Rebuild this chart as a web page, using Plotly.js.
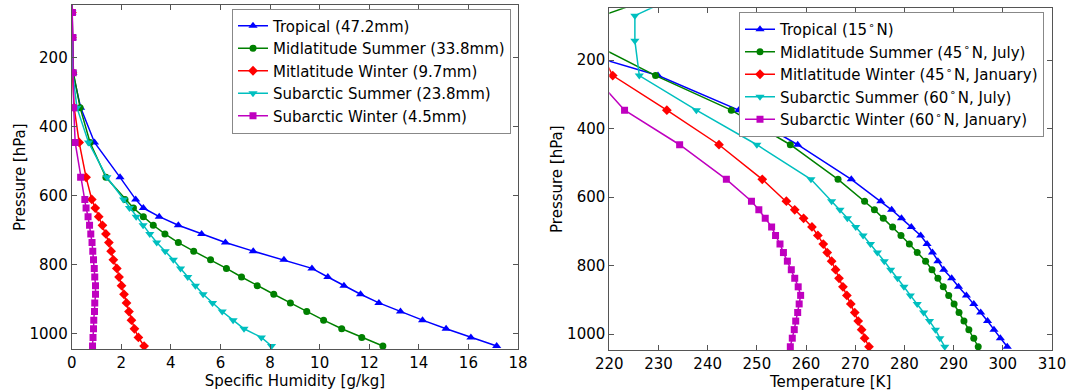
<!DOCTYPE html>
<html>
<head>
<meta charset="utf-8">
<script src="https://cdn.plot.ly/plotly-3.0.1.min.js"></script>
<style>
  html, body { margin: 0; padding: 0; background: #ffffff; }
  #chart { width: 1068px; height: 392px; }
</style>
</head>
<body>
<div id="chart"></div>
<script>
// Pressure levels shared by every profile [hPa]
const pressure = [20, 70, 143, 245, 346, 447, 548, 612, 637, 662, 687, 712, 737, 762,
                  787, 812, 837, 862, 887, 912, 937, 962, 987, 1012, 1037];

// Specific humidity profiles [g/kg]
const qTropical = [0.00, 0.01, 0.02, 0.05, 0.36, 0.92, 1.95, 2.58, 2.89, 3.53, 4.30, 5.24, 6.20,
                   7.32, 8.56, 9.69, 10.33, 10.98, 11.65, 12.39, 13.26, 14.15, 15.10, 16.10, 17.14];
const qMidSummer = [0.00, 0.01, 0.02, 0.07, 0.34, 0.74, 1.38, 2.15, 2.49, 2.89, 3.29, 3.76, 4.30,
                    4.92, 5.60, 6.24, 6.85, 7.48, 8.15, 8.82, 9.48, 10.16, 10.89, 11.70, 12.55];
const qMidWinter = [0.00, 0.01, 0.01, 0.03, 0.10, 0.30, 0.58, 0.81, 0.95, 1.09, 1.24, 1.38, 1.50,
                    1.59, 1.68, 1.82, 1.91, 2.01, 2.11, 2.21, 2.31, 2.41, 2.53, 2.69, 2.92];
const qSubSummer = [0.00, 0.01, 0.02, 0.04, 0.21, 0.68, 1.42, 2.09, 2.33, 2.60, 2.88, 3.15, 3.43,
                    3.77, 4.10, 4.39, 4.68, 4.99, 5.30, 5.68, 6.07, 6.51, 6.95, 7.65, 8.06];
const qSubWinter = [0.00, 0.03, 0.05, 0.06, 0.08, 0.14, 0.36, 0.53, 0.58, 0.66, 0.72, 0.77, 0.82,
                    0.85, 0.88, 0.91, 0.93, 0.96, 0.96, 0.93, 0.92, 0.89, 0.88, 0.86, 0.84];

// Temperature profiles [K]
const tTropical = [215.0, 205.0, 205.9, 229.9, 246.3, 258.3, 269.2, 275.2, 277.4, 279.4, 281.4, 283.3, 284.6,
                   285.7, 286.8, 288.0, 289.6, 291.0, 292.6, 294.1, 295.5, 296.9, 298.2, 299.5, 300.9];
const tMidSummer = [228.4, 218.6, 215.5, 229.4, 244.8, 256.8, 266.5, 271.9, 273.9, 275.7, 277.6, 279.3, 281.0,
                    282.6, 284.3, 285.6, 286.8, 287.9, 289.0, 290.1, 291.1, 292.1, 293.1, 294.1, 295.0];
const tMidWinter = [218.0, 217.5, 217.0, 220.7, 231.7, 242.3, 251.1, 256.0, 257.7, 259.5, 261.2, 262.4, 263.5,
                    264.3, 265.2, 266.0, 266.7, 267.5, 268.3, 269.1, 269.9, 270.6, 271.3, 271.9, 272.8];
const tSubSummer = [232.7, 225.2, 225.2, 226.1, 237.7, 250.0, 261.0, 265.2, 266.9, 268.4, 270.1, 271.6, 273.1,
                    274.5, 275.9, 277.2, 278.6, 279.9, 281.2, 282.6, 283.9, 285.1, 286.3, 287.2, 288.2];
const tSubWinter = [217.0, 217.0, 217.0, 216.8, 223.1, 234.3, 243.8, 248.9, 250.4, 251.7, 253.0, 253.8, 254.7,
                    255.4, 256.2, 257.0, 257.7, 258.4, 258.9, 258.6, 258.3, 257.9, 257.6, 257.2, 256.8];

// Legend labels
const humidityLabels = ['Tropical (47.2mm)', 'Midlatitude Summer (33.8mm)', 'Mitlatitude Winter (9.7mm)',
                        'Subarctic Summer (23.8mm)', 'Subarctic Winter (4.5mm)'];
const deg = '\u200a<sup>\u2218</sup>\u200a';
const temperatureLabels = ['Tropical (15' + deg + 'N)', 'Midlatitude Summer (45' + deg + 'N, July)',
                           'Mitlatitude Winter (45' + deg + 'N, January)', 'Subarctic Summer (60' + deg + 'N, July)',
                           'Subarctic Winter (60' + deg + 'N, January)'];

const humiditySeries = [qTropical, qMidSummer, qMidWinter, qSubSummer, qSubWinter];
const temperatureSeries = [tTropical, tMidSummer, tMidWinter, tSubSummer, tSubWinter];

// Line colours and marker shapes per atmosphere
const colors = ['#0000ff', '#008000', '#ff0000', '#00bfbf', '#bf00bf'];
const symbols = ['triangle-up', 'circle', 'diamond', 'triangle-down', 'square'];
const sizes = [8, 7, 7.5, 8, 7];

const traces = [];
humiditySeries.forEach((q, i) => {
  traces.push({
    type: 'scatter', mode: 'lines+markers', x: q, y: pressure, name: humidityLabels[i],
    xaxis: 'x', yaxis: 'y', legend: 'legend', cliponaxis: true,
    line: { color: colors[i], width: 1.5 },
    marker: { symbol: symbols[i], size: sizes[i], color: colors[i] }
  });
});
temperatureSeries.forEach((t, i) => {
  traces.push({
    type: 'scatter', mode: 'lines+markers', x: t, y: pressure, name: temperatureLabels[i],
    xaxis: 'x2', yaxis: 'y2', legend: 'legend2', cliponaxis: true,
    line: { color: colors[i], width: 1.5 },
    marker: { symbol: symbols[i], size: sizes[i], color: colors[i] }
  });
});

const W = 1068, H = 392;
const frame = {
  showline: true, linecolor: '#555', linewidth: 1, mirror: 'allticks',
  ticks: 'inside', ticklen: 5, tickwidth: 1, tickcolor: '#555',
  showgrid: false, zeroline: false, fixedrange: true,
  tickfont: { family: 'DejaVu Sans', size: 15, color: '#000' }
};
const titleFont = { family: 'DejaVu Sans', size: 15, color: '#000' };
const legendStyle = {
  xanchor: 'right', yanchor: 'top', bgcolor: '#ffffff', bordercolor: '#888', borderwidth: 1,
  font: { family: 'DejaVu Sans', size: 15, color: '#000' }
};

const layout = {
  width: W, height: H,
  margin: { l: 0, r: 0, t: 0, b: 0 },
  paper_bgcolor: '#ffffff', plot_bgcolor: '#ffffff',
  font: { family: 'DejaVu Sans', size: 15, color: '#000' },
  showlegend: true,
  xaxis: Object.assign({}, frame, {
    domain: [71.7 / W, 518 / W], range: [0, 18], tick0: 0, dtick: 2, anchor: 'y',
    title: { text: 'Specific Humidity [g/kg]', font: titleFont, standoff: 4 }
  }),
  yaxis: Object.assign({}, frame, {
    domain: [1 - 349.3 / H, 1 - 5 / H], range: [1046.5, 48.5], tick0: 0, dtick: 200, anchor: 'x',
    title: { text: 'Pressure [hPa]', font: titleFont, standoff: 0 }
  }),
  xaxis2: Object.assign({}, frame, {
    domain: [609.3 / W, 1052 / W], range: [220, 310], tick0: 220, dtick: 10, anchor: 'y2',
    title: { text: 'Temperature [K]', font: titleFont, standoff: 4 }
  }),
  yaxis2: Object.assign({}, frame, {
    domain: [1 - 350 / H, 1 - 8.3 / H], range: [1046.5, 48.5], tick0: 0, dtick: 200, anchor: 'x2',
    title: { text: 'Pressure [hPa]', font: titleFont, standoff: 0 }
  }),
  legend: Object.assign({}, legendStyle, { x: 511 / W, y: 1 - 8.5 / H }),
  legend2: Object.assign({}, legendStyle, { x: 1044 / W, y: 1 - 12 / H })
};

Plotly.newPlot('chart', traces, layout, { displayModeBar: false, responsive: false });
</script>
</body>
</html>
